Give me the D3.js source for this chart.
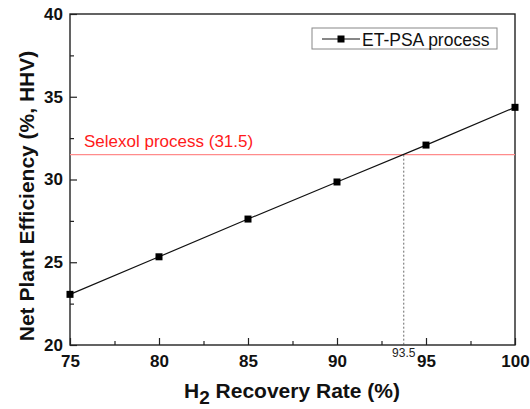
<!DOCTYPE html>
<html><head><meta charset="utf-8">
<script src="https://cdn.jsdelivr.net/npm/d3@7"></script>
<style>body{margin:0;background:#fff}svg{display:block;font-family:Arial,"Liberation Sans",sans-serif}</style>
</head><body><svg id="c" width="530" height="409"></svg>
<script>
const recovery = [75, 80, 85, 90, 95, 100];
const efficiency = [23.06, 25.33, 27.61, 29.85, 32.08, 34.36];
const seriesName = "ET-PSA process";
const selexolValue = 31.5;
const selexolLabel = "Selexol process (31.5)";
const crossX = 93.75;
const crossLabel = "93.5";
const xTicks = [75, 80, 85, 90, 95, 100];
const yTicks = [20, 25, 30, 35, 40];

const svg = d3.select("#c");
const L = 70, R = 515, T = 14, B = 345;
const x = d3.scaleLinear().domain([75, 100]).range([L, R]);
const y = d3.scaleLinear().domain([20, 40]).range([B, T]);

const xMinor = d3.range(77.5, 100, 5);
const yMinor = d3.range(22.5, 40, 5);
const xAxis = d3.axisBottom(x).tickValues(xTicks).tickSize(-7).tickPadding(10).tickFormat(d3.format("d"));
const yAxis = d3.axisLeft(y).tickValues(yTicks).tickSize(-7).tickPadding(7).tickFormat(d3.format("d"));

svg.append("g").attr("transform", `translate(0,${B})`)
  .call(d3.axisBottom(x).tickValues(xMinor).tickSize(-4).tickFormat(""))
  .call(g => g.select(".domain").remove())
  .call(g => g.selectAll("line").attr("stroke", "#222").attr("stroke-width", 1.2));
svg.append("g").attr("transform", `translate(${L},0)`)
  .call(d3.axisLeft(y).tickValues(yMinor).tickSize(-4).tickFormat(""))
  .call(g => g.select(".domain").remove())
  .call(g => g.selectAll("line").attr("stroke", "#222").attr("stroke-width", 1.2));

const gx = svg.append("g").attr("transform", `translate(0,${B})`).call(xAxis);
gx.select(".domain").remove();
gx.selectAll("line").attr("stroke", "#222").attr("stroke-width", 1.2);
gx.selectAll("text").attr("font-size", 17).attr("font-weight", "bold").attr("fill", "#111").attr("font-family", "Arial, 'Liberation Sans', sans-serif");

const gy = svg.append("g").attr("transform", `translate(${L},0)`).call(yAxis);
gy.select(".domain").remove();
gy.selectAll("line").attr("stroke", "#222").attr("stroke-width", 1.2);
gy.selectAll("text").attr("font-size", 17).attr("font-weight", "bold").attr("fill", "#111").attr("font-family", "Arial, 'Liberation Sans', sans-serif");

svg.append("rect").attr("x", L).attr("y", T).attr("width", R - L).attr("height", B - T)
  .attr("fill", "none").attr("stroke", "#222").attr("stroke-width", 1.4);

svg.append("line").attr("x1", L).attr("x2", R).attr("y1", y(selexolValue)).attr("y2", y(selexolValue))
  .attr("stroke", "#ff8c8c").attr("stroke-width", 1.2);
svg.append("text").attr("x", x(75) + 14).attr("y", y(selexolValue) - 8)
  .attr("fill", "#ff1a1a").attr("font-size", 17).text(selexolLabel);

svg.append("line").attr("x1", x(crossX)).attr("x2", x(crossX)).attr("y1", y(selexolValue)).attr("y2", B)
  .attr("stroke", "#444").attr("stroke-width", 0.8).attr("stroke-dasharray", "2,2");
svg.append("text").attr("x", x(crossX)).attr("y", B + 12).attr("text-anchor", "middle")
  .attr("font-size", 12).attr("fill", "#222").text(crossLabel);

const pts = recovery.map((r, i) => [r, efficiency[i]]);
svg.append("path").datum(pts)
  .attr("d", d3.line().x(d => x(d[0])).y(d => y(d[1])))
  .attr("fill", "none").attr("stroke", "#111").attr("stroke-width", 1.2);
svg.append("g").selectAll("rect").data(pts).join("rect")
  .attr("x", d => x(d[0]) - 3.5).attr("y", d => y(d[1]) - 3.5)
  .attr("width", 7).attr("height", 7).attr("fill", "#000");

const lg = svg.append("g");
lg.append("rect").attr("x", 312).attr("y", 28).attr("width", 185).attr("height", 21)
  .attr("fill", "#fff").attr("stroke", "#888").attr("stroke-width", 1);
lg.append("line").attr("x1", 322).attr("x2", 360).attr("y1", 39).attr("y2", 39).attr("stroke", "#111").attr("stroke-width", 1.2);
lg.append("rect").attr("x", 337.5).attr("y", 35.5).attr("width", 7).attr("height", 7).attr("fill", "#000");
lg.append("text").attr("x", 362).attr("y", 45.5).attr("font-size", 17.5).attr("fill", "#111").text(seriesName);

const xt = svg.append("text").attr("x", 292).attr("y", 398).attr("text-anchor", "middle")
  .attr("font-size", 21).attr("font-weight", "bold").attr("fill", "#111");
xt.append("tspan").text("H");
xt.append("tspan").attr("dy", 6).attr("font-size", 19).text("2");
xt.append("tspan").attr("dy", -6).text(" Recovery Rate (%)");

svg.append("text").attr("transform", "translate(34,196) rotate(-90)").attr("text-anchor", "middle")
  .attr("font-size", 21).attr("font-weight", "bold").attr("fill", "#111")
  .text("Net Plant Efficiency (%, HHV)");
</script>
</body></html>
